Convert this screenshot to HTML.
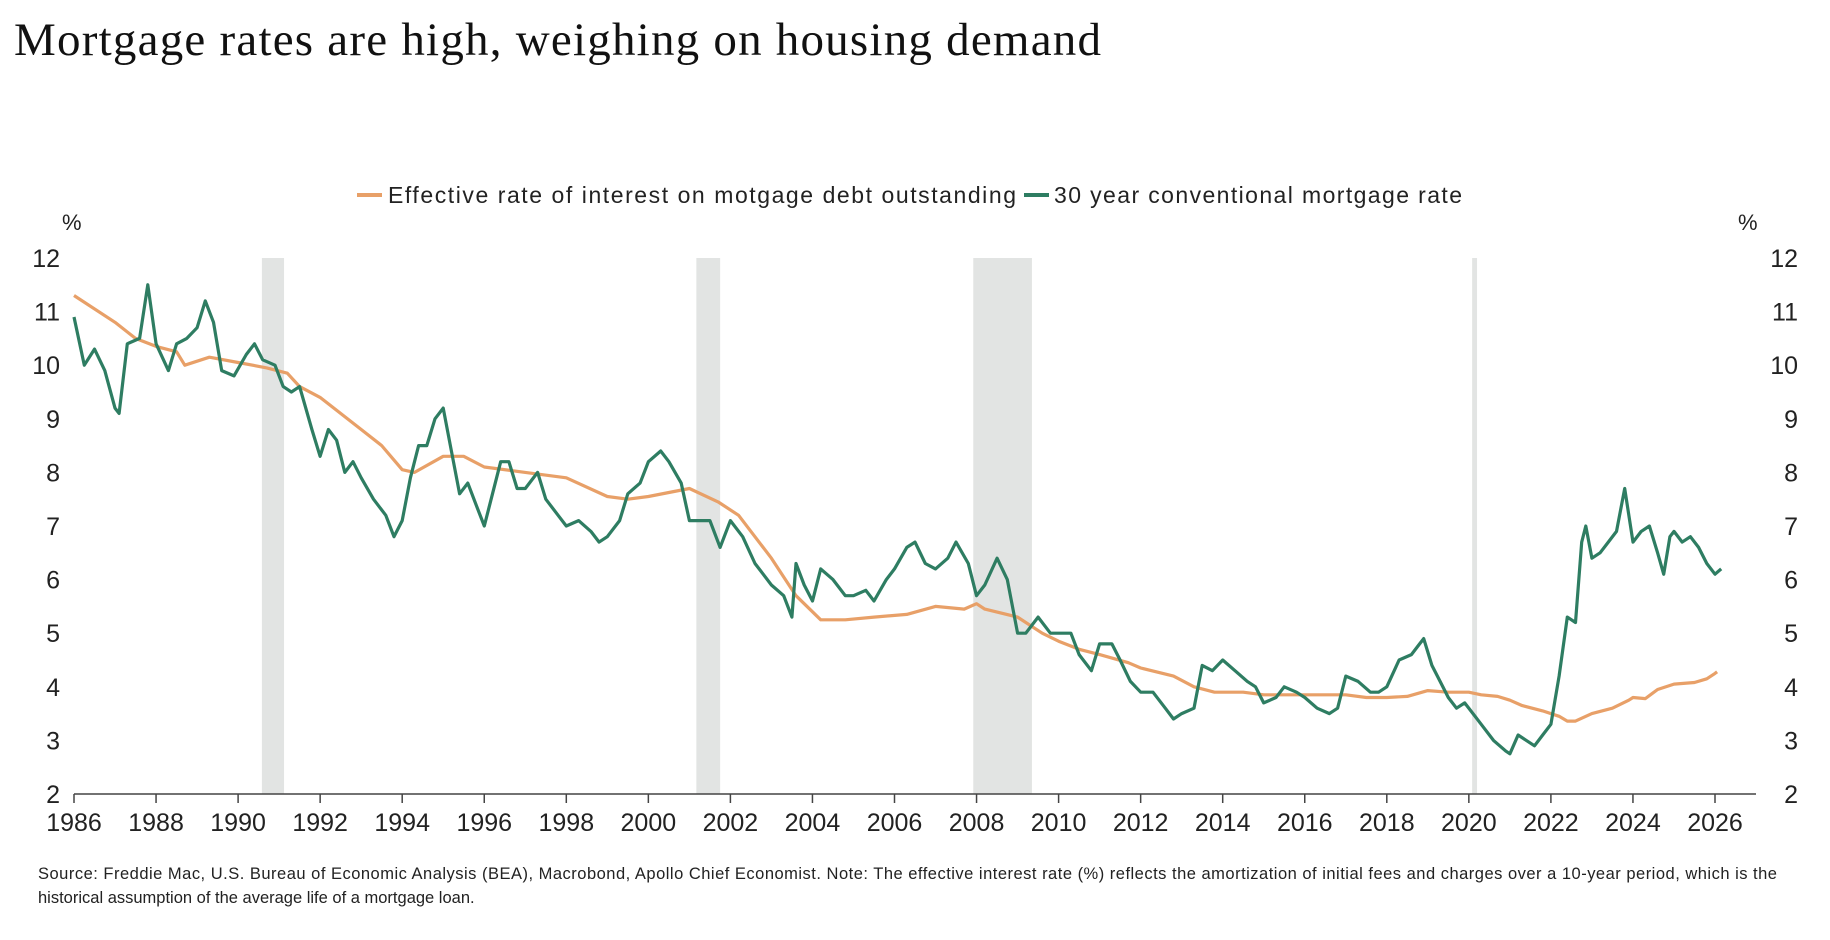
<!DOCTYPE html>
<html><head><meta charset="utf-8"><style>
html,body{margin:0;padding:0;background:#fff;}
svg{display:block;}
text{font-family:"Liberation Sans",sans-serif;fill:#222;}
</style></head><body>
<svg id="chart" width="1830" height="940" viewBox="0 0 1830 940">
<text x="14" y="55" style="font-family:'Liberation Serif',serif;font-size:47px;fill:#111" textLength="1087">Mortgage rates are high, weighing on housing demand</text>
<g>
<line x1="357" y1="195" x2="382" y2="195" stroke="#E8A068" stroke-width="4"/>
<text x="388" y="203" style="font-size:23px" textLength="628">Effective rate of interest on motgage debt outstanding</text>
<line x1="1024" y1="195" x2="1049" y2="195" stroke="#2E7D62" stroke-width="4"/>
<text x="1054" y="203" style="font-size:23px" textLength="408">30 year conventional mortgage rate</text>
</g>
<text x="62" y="230" style="font-size:22px">%</text>
<text x="1738" y="230" style="font-size:22px">%</text>
<g id="rec"></g><g id="axes"></g><g id="lines"></g>
<text x="38" y="879" style="font-size:16.5px" textLength="1739">Source: Freddie Mac, U.S. Bureau of Economic Analysis (BEA), Macrobond, Apollo Chief Economist. Note: The effective interest rate (%) reflects the amortization of initial fees and charges over a 10-year period, which is the</text>
<text x="38" y="903" style="font-size:16.5px">historical assumption of the average life of a mortgage loan.</text>
</svg>
<script>
const recStarts=[1990.58,2001.17,2007.92,2020.08];
const recEnds=[1991.12,2001.75,2009.35,2020.2];
const yTicks=[2,3,4,5,6,7,8,9,10,11,12];
const xTicks=[1986,1988,1990,1992,1994,1996,1998,2000,2002,2004,2006,2008,2010,2012,2014,2016,2018,2020,2022,2024,2026];
const mYears=[1986.0,1986.25,1986.5,1986.75,1987.0,1987.1,1987.3,1987.6,1987.8,1988.0,1988.3,1988.5,1988.75,1989.0,1989.2,1989.4,1989.6,1989.9,1990.2,1990.4,1990.6,1990.9,1991.1,1991.3,1991.5,1991.8,1992.0,1992.2,1992.4,1992.6,1992.8,1993.0,1993.3,1993.6,1993.8,1994.0,1994.2,1994.4,1994.6,1994.8,1995.0,1995.2,1995.4,1995.6,1995.8,1996.0,1996.2,1996.4,1996.6,1996.8,1997.0,1997.3,1997.5,1997.8,1998.0,1998.3,1998.6,1998.8,1999.0,1999.3,1999.5,1999.8,2000.0,2000.3,2000.5,2000.8,2001.0,2001.3,2001.5,2001.75,2002.0,2002.3,2002.6,2002.8,2003.0,2003.3,2003.5,2003.6,2003.8,2004.0,2004.2,2004.5,2004.8,2005.0,2005.3,2005.5,2005.8,2006.0,2006.3,2006.5,2006.75,2007.0,2007.3,2007.5,2007.8,2008.0,2008.2,2008.5,2008.75,2009.0,2009.2,2009.5,2009.8,2010.0,2010.3,2010.5,2010.8,2011.0,2011.3,2011.5,2011.75,2012.0,2012.3,2012.6,2012.8,2013.0,2013.3,2013.5,2013.75,2014.0,2014.3,2014.6,2014.8,2015.0,2015.3,2015.5,2015.8,2016.0,2016.3,2016.6,2016.8,2017.0,2017.3,2017.6,2017.8,2018.0,2018.3,2018.6,2018.8,2018.9,2019.1,2019.3,2019.5,2019.7,2019.9,2020.1,2020.3,2020.6,2020.9,2021.0,2021.2,2021.4,2021.6,2021.8,2022.0,2022.2,2022.4,2022.6,2022.75,2022.85,2023.0,2023.2,2023.4,2023.6,2023.8,2024.0,2024.2,2024.4,2024.6,2024.75,2024.9,2025.0,2025.2,2025.4,2025.6,2025.8,2026.0,2026.15];
const mRates=[10.9,10.0,10.3,9.9,9.2,9.1,10.4,10.5,11.5,10.4,9.9,10.4,10.5,10.7,11.2,10.8,9.9,9.8,10.2,10.4,10.1,10.0,9.6,9.5,9.6,8.8,8.3,8.8,8.6,8.0,8.2,7.9,7.5,7.2,6.8,7.1,7.9,8.5,8.5,9.0,9.2,8.4,7.6,7.8,7.4,7.0,7.6,8.2,8.2,7.7,7.7,8.0,7.5,7.2,7.0,7.1,6.9,6.7,6.8,7.1,7.6,7.8,8.2,8.4,8.2,7.8,7.1,7.1,7.1,6.6,7.1,6.8,6.3,6.1,5.9,5.7,5.3,6.3,5.9,5.6,6.2,6.0,5.7,5.7,5.8,5.6,6.0,6.2,6.6,6.7,6.3,6.2,6.4,6.7,6.3,5.7,5.9,6.4,6.0,5.0,5.0,5.3,5.0,5.0,5.0,4.6,4.3,4.8,4.8,4.5,4.1,3.9,3.9,3.6,3.4,3.5,3.6,4.4,4.3,4.5,4.3,4.1,4.0,3.7,3.8,4.0,3.9,3.8,3.6,3.5,3.6,4.2,4.1,3.9,3.9,4.0,4.5,4.6,4.8,4.9,4.4,4.1,3.8,3.6,3.7,3.5,3.3,3.0,2.8,2.75,3.1,3.0,2.9,3.1,3.3,4.2,5.3,5.2,6.7,7.0,6.4,6.5,6.7,6.9,7.7,6.7,6.9,7.0,6.5,6.1,6.8,6.9,6.7,6.8,6.6,6.3,6.1,6.2];
const eYears=[1986.0,1987.0,1987.5,1988.0,1988.5,1988.7,1989.3,1990.0,1990.7,1991.2,1991.5,1992.0,1993.0,1993.5,1994.0,1994.3,1995.0,1995.5,1996.0,1997.0,1998.0,1999.0,1999.5,2000.0,2001.0,2001.7,2002.2,2003.0,2003.6,2004.2,2004.8,2005.5,2006.3,2007.0,2007.7,2008.0,2008.2,2009.0,2009.6,2010.0,2010.5,2011.0,2011.7,2012.0,2012.8,2013.3,2013.8,2014.5,2015.0,2016.0,2017.0,2017.5,2018.0,2018.5,2019.0,2019.5,2020.0,2020.3,2020.7,2021.0,2021.3,2021.8,2022.2,2022.4,2022.6,2023.0,2023.5,2023.9,2024.0,2024.3,2024.6,2025.0,2025.5,2025.8,2026.0,2026.05];
const eRates=[11.3,10.8,10.5,10.35,10.25,10.0,10.15,10.05,9.95,9.85,9.6,9.4,8.8,8.5,8.05,8.0,8.3,8.3,8.1,8.0,7.9,7.55,7.5,7.55,7.7,7.45,7.2,6.4,5.7,5.25,5.25,5.3,5.35,5.5,5.45,5.55,5.45,5.3,5.0,4.85,4.7,4.6,4.45,4.35,4.2,4.0,3.9,3.9,3.85,3.85,3.85,3.8,3.8,3.82,3.93,3.9,3.9,3.85,3.82,3.75,3.65,3.55,3.45,3.36,3.36,3.5,3.6,3.75,3.8,3.78,3.95,4.05,4.08,4.15,4.25,4.28];

const NS='http://www.w3.org/2000/svg';
const X0=74,X1=1715,Y0=794,Y1=258;
function xs(y){return X0+(y-1986)*(X1-X0)/40;}
function ys(v){return Y0-(v-2)*(Y0-Y1)/10;}
function mk(tag,attrs,parent){const e=document.createElementNS(NS,tag);for(const k in attrs)e.setAttribute(k,attrs[k]);parent.appendChild(e);return e;}
const rec=document.getElementById('rec'),axes=document.getElementById('axes'),lines=document.getElementById('lines');
recStarts.forEach((s,i)=>{
 const r=mk('rect',{x:xs(s),y:Y1,width:Math.max(4,xs(recEnds[i])-xs(s)),height:Y0-Y1,fill:'#E2E4E3'},rec);
 
 
});
const ax=mk('line',{x1:X0,y1:Y0,x2:1756,y2:Y0,stroke:'#444','stroke-width':1.5},axes);


xTicks.forEach(t=>{
 const tk=mk('line',{x1:xs(t),y1:Y0,x2:xs(t),y2:Y0+9,stroke:'#444','stroke-width':1.5},axes);
 
 
 const tx=mk('text',{x:xs(t),y:Y0+37,'text-anchor':'middle','font-size':'25px'},axes);
 tx.textContent=t;
 
 
});
yTicks.forEach(v=>{
 const l=mk('text',{x:60,y:ys(v)+9,'text-anchor':'end','font-size':'25px'},axes);
 l.textContent=v;
 
 
 const r=mk('text',{x:1798,y:ys(v)+9,'text-anchor':'end','font-size':'25px'},axes);
 r.textContent=v;
 
 
});
function path(xa,va){return xa.map((x,i)=>(i?'L':'M')+xs(x).toFixed(1)+','+ys(va[i]).toFixed(1)).join('');}
const pe=mk('path',{d:path(eYears,eRates),fill:'none',stroke:'#E8A068','stroke-width':3.2,'stroke-linejoin':'round'},lines);


const pm=mk('path',{d:path(mYears,mRates),fill:'none',stroke:'#2E7D62','stroke-width':3.2,'stroke-linejoin':'round'},lines);


</script>
</body></html>
